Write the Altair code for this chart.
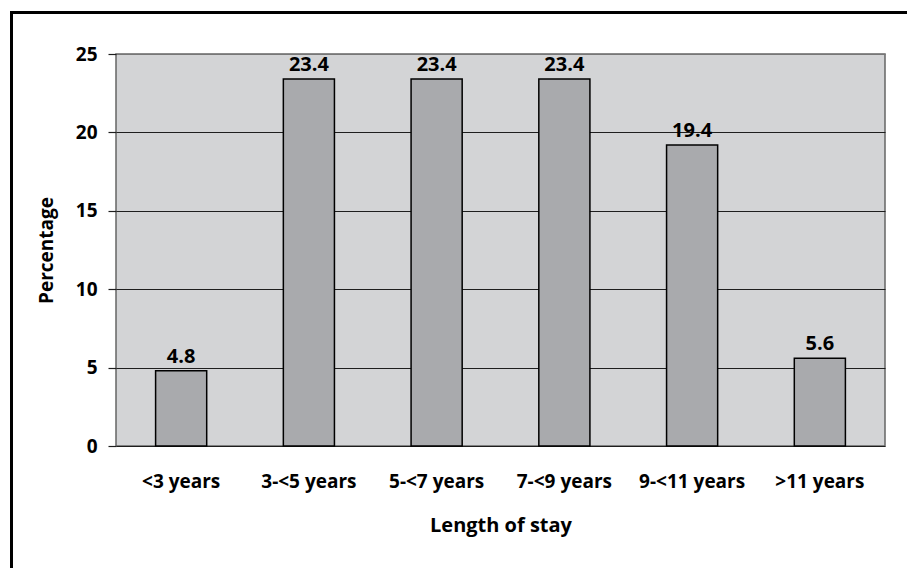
import altair as alt
import pandas as pd

categories = ["<3 years", "3-<5 years", "5-<7 years", "7-<9 years", "9-<11 years", ">11 years"]
values = [4.8, 23.4, 23.4, 23.4, 19.2, 5.6]
labels = ["4.8", "23.4", "23.4", "23.4", "19.4", "5.6"]
y_ticks = [0, 5, 10, 15, 20, 25]

df = pd.DataFrame({"cat": categories, "val": values, "lab": labels})

FONT = "Open Sans"

x_enc = alt.X(
    "cat:N",
    sort=categories,
    scale=alt.Scale(paddingInner=0.6, paddingOuter=0.31),
    axis=alt.Axis(
        title="Length of stay",
        labelAngle=0,
        ticks=False,
        domain=False,
        labelPadding=26,
        labelFont=FONT,
        labelFontSize=19,
        labelFontWeight="bold",
        labelColor="black",
        titleFont=FONT,
        titleFontSize=20,
        titleFontWeight="bold",
        titleColor="black",
        titlePadding=24,
    ),
)

y_scale = alt.Scale(domain=[0, 25], nice=False)

bars = alt.Chart(df).mark_bar(
    color="#a9aaad", stroke="black", strokeWidth=1.5
).encode(
    x=x_enc,
    y=alt.Y(
        "val:Q",
        scale=y_scale,
        axis=alt.Axis(
            title="Percentage",
            values=y_ticks,
            grid=True,
            gridColor=alt.condition("datum.value == 25", alt.value("#777777"), alt.value("#1e1e1e")),
            gridWidth=1.2,
            domain=False,
            tickSize=8,
            tickColor="#1e1e1e",
            tickWidth=1.2,
            labelPadding=11,
            labelFont=FONT,
            labelFontSize=19,
            labelFontWeight="bold",
            labelColor="black",
            titleFont=FONT,
            titleFontSize=19,
            titleFontWeight="bold",
            titleColor="black",
            titlePadding=19,
        ),
    ),
)

text = alt.Chart(df).mark_text(
    baseline="bottom", dy=-4, font=FONT, fontSize=20, fontWeight="bold", color="black"
).encode(
    x=alt.X("cat:N", sort=categories),
    y=alt.Y("val:Q", scale=y_scale),
    text="lab:N",
)

frame = alt.Chart(pd.DataFrame({"a": [0]})).mark_rect(
    fill=None, stroke="black", strokeWidth=3
).encode(
    x=alt.value(-104.5), x2=alt.value(820), y=alt.value(-41.5), y2=alt.value(540)
)

chart = alt.layer(frame, bars, text).properties(
    width=769,
    height=392,
    autosize=alt.AutoSizeParams(type="none"),
    padding={"left": 116, "top": 54, "right": 22, "bottom": 122},
    background="white",
).configure_view(
    fill="#d3d4d6", stroke="#666666", strokeWidth=1.5
)

chart.save("out.html", embed_options={"renderer": "svg", "actions": False})
